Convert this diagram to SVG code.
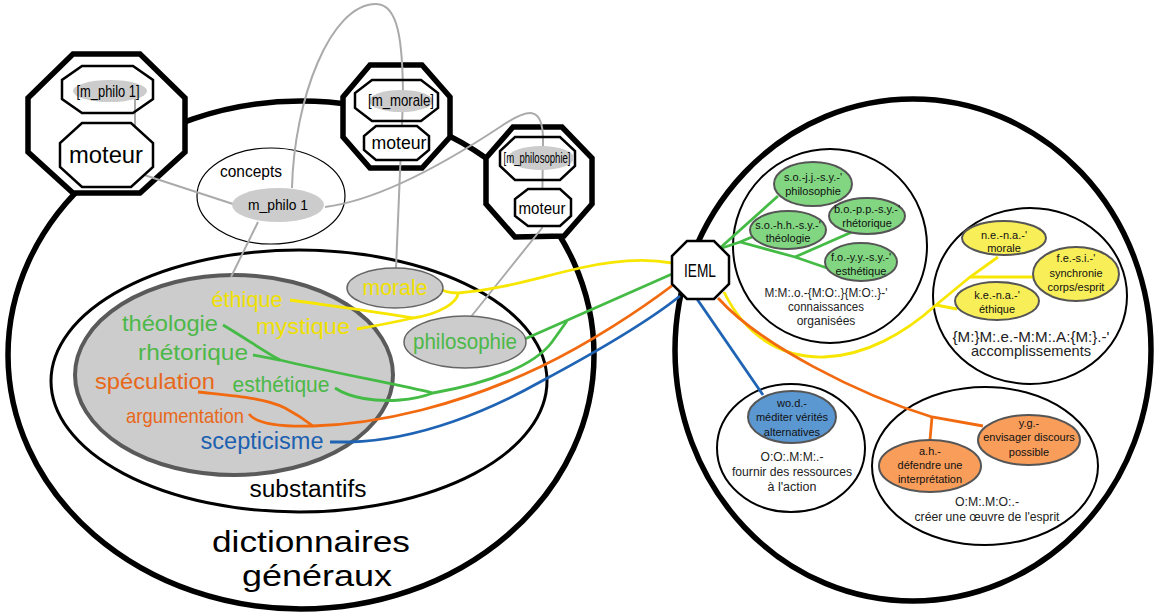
<svg xmlns="http://www.w3.org/2000/svg" width="1154" height="613" viewBox="0 0 1154 613">
<style>
text{font-family:"Liberation Sans",Arial,sans-serif;text-anchor:middle;fill:#000}
.oct{fill:#fff;stroke:#000;stroke-width:5.5;stroke-linejoin:miter}
.in{fill:#fff;stroke:#000;stroke-width:2.5}
.inT{fill:none;stroke:#000;stroke-width:2.5}
.cap{fill:#cccccc}
.gell{fill:#cccccc;stroke:#666;stroke-width:1.5}
.cont{fill:none;stroke:#000}
.gray{fill:none;stroke:#aaaaaa;stroke-width:2}
.ly{fill:none;stroke:#f7e600;stroke-width:2.8}
.lg{fill:none;stroke:#44bb44;stroke-width:2.8}
.lo{fill:none;stroke:#f26a10;stroke-width:2.8}
.lb{fill:none;stroke:#1f64b4;stroke-width:2.8}
.ty{fill:#efe000}
.tg{fill:#4cb848}
.to{fill:#e8681a}
.tb{fill:#1c60b0}
.eg{fill:#82d682;stroke:#555;stroke-width:2}
.ey{fill:#f8ee58;stroke:#555;stroke-width:2}
.eo{fill:#f99d5b;stroke:#555;stroke-width:2}
.eb{fill:#5b98d2;stroke:#555;stroke-width:2}
.s{font-size:11px;fill:#111}
.lab{fill:#222}
</style>

<!-- containers -->
<g id="dictionnaires-generaux">
  <ellipse class="cont" cx="301" cy="355" rx="293" ry="254" stroke-width="5.5"/>
  <text x="311" y="552" font-size="30" textLength="198" lengthAdjust="spacingAndGlyphs">dictionnaires</text>
  <text x="317" y="586" font-size="30" textLength="150" lengthAdjust="spacingAndGlyphs">généraux</text>
</g>
<g id="substantifs">
  <ellipse class="cont" cx="299" cy="381" rx="248" ry="131" stroke-width="3"/>
  <text x="308" y="497" font-size="23" textLength="117" lengthAdjust="spacingAndGlyphs">substantifs</text>
</g>
<g id="concepts">
  <ellipse class="cont" cx="271" cy="196" rx="74" ry="48" stroke-width="1.2"/>
  <text x="251" y="177" font-size="16" textLength="62" lengthAdjust="spacingAndGlyphs">concepts</text>
</g>
<g id="champ-gris">
  <ellipse cx="234" cy="375" rx="159" ry="100" fill="#cccccc" stroke="#5a5a5a" stroke-width="4"/>
</g>
<g id="domaine-ieml">
  <ellipse class="cont" cx="913" cy="350" rx="238" ry="251" stroke-width="5.5"/>
</g>
<g id="connaissances-organisees">
  <circle class="cont" cx="830" cy="246" r="97" stroke-width="2"/>
  <text class="lab" x="826" y="297" font-size="12" textLength="123" lengthAdjust="spacingAndGlyphs">M:M:.o.-{M:O:.}{M:O:.}-'</text>
  <text class="lab" x="826" y="311" font-size="12" textLength="76" lengthAdjust="spacingAndGlyphs">connaissances</text>
  <text class="lab" x="826" y="325" font-size="12">organisées</text>
</g>
<g id="accomplissements">
  <ellipse class="cont" cx="1030" cy="296" rx="97" ry="88" stroke-width="2"/>
  <text class="lab" x="1031" y="342" font-size="14.5" textLength="157" lengthAdjust="spacingAndGlyphs">{M:}M:.e.-M:M:.A:{M:}.-'</text>
  <text class="lab" x="1031" y="356" font-size="14.5" textLength="120" lengthAdjust="spacingAndGlyphs">accomplissements</text>
</g>
<g id="fournir-ressources">
  <ellipse class="cont" cx="791" cy="448" rx="74" ry="64" stroke-width="2"/>
  <text class="lab" x="792" y="461" font-size="12.5" textLength="63" lengthAdjust="spacingAndGlyphs">O:O:.M:M:.-</text>
  <text class="lab" x="792" y="476" font-size="12.5" textLength="120" lengthAdjust="spacingAndGlyphs">fournir des ressources</text>
  <text class="lab" x="792" y="491" font-size="12.5">à l'action</text>
</g>
<g id="oeuvre-esprit">
  <ellipse class="cont" cx="985" cy="466" rx="113" ry="79" stroke-width="2"/>
  <text class="lab" x="987" y="506" font-size="12.5" textLength="64" lengthAdjust="spacingAndGlyphs">O:M:.M:O:.-</text>
  <text class="lab" x="987" y="521" font-size="12.5" textLength="145" lengthAdjust="spacingAndGlyphs">créer une œuvre de l'esprit</text>
</g>

<!-- outer engine frames -->
<g id="cadre-philo1"><polygon class="oct" points="73,54 140,54 185,98 185,152 140,193 73,193 28,152 28,98"/></g>
<g id="cadre-morale"><polygon class="oct" points="370,65 422,65 450,97 450,137 422,168 370,168 343,137 343,97"/></g>
<g id="cadre-philosophie"><polygon class="oct" points="513,127 562,127 592,158 592,204 564,236 515,237 486,204 486,158"/></g>

<!-- connectors -->
<g id="connecteurs">
  <path class="gray" d="M135,95 L135,172 L233,204"/>
  <path class="gray" d="M292,188 C294,100 330,4 376,4 C398,4 403,40 403,100 L396,268"/>
  <path class="gray" d="M325,207 C380,200 450,160 500,127 C528,108 543,105 543,140 L542,228 L470,318"/>
  <path class="gray" d="M258,222 L231,277"/>

  <path class="ly" d="M290,300 C340,307 380,312 413,318"/>
  <path class="ly" d="M357,329 C380,325 400,321 413,318"/>
  <path class="ly" d="M413,318 C440,314 458,302 458,293"/>
  <path class="ly" d="M437,287 C442,291 448,293 458,293 C500,290 540,277 580,268 C620,259 650,259 672,263"/>
  <path class="ly" d="M724,292 C745,335 780,358 824,357 C865,356 905,333 936,305 L970,277 L998,257"/>
  <path class="ly" d="M970,277 L1033,277"/>
  <path class="ly" d="M936,305 L957,309"/>

  <path class="lg" d="M223,325 C245,338 265,352 280,360"/>
  <path class="lg" d="M253,355 L280,360 C330,372 400,385 433,393"/>
  <path class="lg" d="M335,388 C350,398 375,402 400,400 C415,399 425,396 433,393"/>
  <path class="lg" d="M433,393 C490,383 535,365 552,342 L567,321"/>
  <path class="lg" d="M518,342 L672,274"/>
  <path class="lg" d="M720,248 L778,196"/>
  <path class="lg" d="M722,248 L740,242 L752,237"/>
  <path class="lg" d="M740,242 L795,257 L827,268"/>
  <path class="lg" d="M795,257 L852,232"/>

  <path class="lo" d="M198,392 C235,396 265,398 285,408 Q300,416 313,426"/>
  <path class="lo" d="M249,414 C255,422 275,427 313,426"/>
  <path class="lo" d="M313,426 C380,424 460,405 540,367 C590,343 640,310 673,285"/>
  <path class="lo" d="M718,298 C760,345 860,395 932,417 L983,426"/>
  <path class="lo" d="M932,417 L930,440"/>

  <path class="lb" d="M330,442 L350,442 C420,440 490,410 540,382 C600,350 650,320 680,296"/>
  <path class="lb" d="M697,299 L763,395"/>
</g>

<!-- engine nodes -->
<g id="ref-m_philo1">
  <polygon class="inT" points="82,66 133,66 153,80 153,99 133,113 82,113 62,99 62,80"/>
  <ellipse class="cap" cx="110" cy="91" rx="37" ry="11"/>
  <text x="108" y="97" font-size="17" textLength="63" lengthAdjust="spacingAndGlyphs">[m_philo 1]</text>
</g>
<g id="moteur-1">
  <polygon class="in" points="82,123 131,123 153,143 153,167 131,187 82,187 60,167 60,143"/>
  <text x="106" y="163" font-size="24" textLength="74" lengthAdjust="spacingAndGlyphs">moteur</text>
</g>
<g id="ref-m_morale">
  <polygon class="inT" points="372,80 421,80 438,93 438,108 421,121 372,121 355,108 355,93"/>
  <ellipse class="cap" cx="401" cy="101" rx="32" ry="11"/>
  <text x="401" y="106" font-size="17" textLength="66" lengthAdjust="spacingAndGlyphs">[m_morale]</text>
</g>
<g id="moteur-2">
  <polygon class="in" points="376,126 417,126 429,136 429,150 417,160 376,160 364,150 364,136"/>
  <text x="399" y="149" font-size="18" textLength="55" lengthAdjust="spacingAndGlyphs">moteur</text>
</g>
<g id="ref-m_philosophie">
  <polygon class="inT" points="515,137 560,137 575,151 575,166 560,180 515,180 500,166 500,151"/>
  <ellipse class="cap" cx="541" cy="158" rx="33" ry="12"/>
  <text x="537" y="163" font-size="14" textLength="67" lengthAdjust="spacingAndGlyphs">[m_philosophie]</text>
</g>
<g id="moteur-3">
  <polygon class="in" points="528,189 560,189 571,199 571,216 560,226 528,226 515,216 515,199"/>
  <text x="542" y="214" font-size="16" textLength="47" lengthAdjust="spacingAndGlyphs">moteur</text>
</g>
<g id="m_philo1">
  <ellipse class="cap" cx="278" cy="205" rx="46" ry="17"/>
  <text x="278" y="210" font-size="15" textLength="60" lengthAdjust="spacingAndGlyphs">m_philo 1</text>
</g>

<!-- word nodes -->
<g id="morale"><ellipse class="gell" cx="395" cy="288" rx="48" ry="20"/><text class="ty" x="395" y="295" font-size="22" textLength="65" lengthAdjust="spacingAndGlyphs">morale</text></g>
<g id="philosophie"><ellipse class="gell" cx="465" cy="342" rx="61" ry="26"/><text class="tg" x="465" y="349" font-size="22" textLength="104" lengthAdjust="spacingAndGlyphs">philosophie</text></g>
<g id="ethique"><text class="ty" x="247" y="307" font-size="22" textLength="71" lengthAdjust="spacingAndGlyphs">éthique</text></g>
<g id="mystique"><text class="ty" x="303" y="334" font-size="22" textLength="94" lengthAdjust="spacingAndGlyphs">mystique</text></g>
<g id="theologie"><text class="tg" x="170" y="331" font-size="22" textLength="96" lengthAdjust="spacingAndGlyphs">théologie</text></g>
<g id="rhetorique"><text class="tg" x="193" y="360" font-size="22" textLength="110" lengthAdjust="spacingAndGlyphs">rhétorique</text></g>
<g id="speculation"><text class="to" x="155" y="389" font-size="22" textLength="120" lengthAdjust="spacingAndGlyphs">spéculation</text></g>
<g id="esthetique"><text class="tg" x="281" y="392" font-size="22" textLength="97" lengthAdjust="spacingAndGlyphs">esthétique</text></g>
<g id="argumentation"><text class="to" x="185" y="423" font-size="21" textLength="118" lengthAdjust="spacingAndGlyphs">argumentation</text></g>
<g id="scepticisme"><text class="tb" x="262" y="449" font-size="23" textLength="123" lengthAdjust="spacingAndGlyphs">scepticisme</text></g>

<!-- IEML -->
<g id="ieml">
  <polygon fill="#fff" stroke="#000" stroke-width="2.5" points="687,241 714,241 729,256 729,284 714,299 687,299 672,284 672,256"/>
  <text x="700" y="277" font-size="18" textLength="32" lengthAdjust="spacingAndGlyphs">IEML</text>
</g>

<!-- IEML terms -->
<g id="sojjsy"><ellipse class="eg" cx="813" cy="184" rx="39" ry="22"/><text class="s" x="813" y="181">s.o.-j.j.-s.y.-'</text><text class="s" x="813" y="195">philosophie</text></g>
<g id="boppsy"><ellipse class="eg" cx="867" cy="216" rx="38" ry="18"/><text class="s" x="867" y="213" font-size="10.5">b.o.-p.p.-s.y.-'</text><text class="s" x="867" y="227" font-size="10.5">rhétorique</text></g>
<g id="sohhsy"><ellipse class="eg" cx="788" cy="230" rx="38" ry="19"/><text class="s" x="788" y="229">s.o.-h.h.-s.y.-'</text><text class="s" x="788" y="242">théologie</text></g>
<g id="foyysy"><ellipse class="eg" cx="861" cy="262" rx="36" ry="19"/><text class="s" x="861" y="261">f.o.-y.y.-s.y.-'</text><text class="s" x="861" y="275">esthétique</text></g>

<g id="nena"><ellipse class="ey" cx="1004" cy="238" rx="42" ry="17"/><text class="s" x="1004" y="239" font-size="12">n.e.-n.a.-'</text><text class="s" x="1004" y="252" font-size="12">morale</text></g>
<g id="fesi"><ellipse class="ey" cx="1076" cy="274" rx="43" ry="27"/><text class="s" x="1076" y="262" font-size="12">f.e.-s.i.-'</text><text class="s" x="1076" y="277" font-size="12">synchronie</text><text class="s" x="1076" y="291" font-size="12">corps/esprit</text></g>
<g id="kena"><ellipse class="ey" cx="997" cy="301" rx="42" ry="19"/><text class="s" x="997" y="299" font-size="12">k.e.-n.a.-'</text><text class="s" x="997" y="313" font-size="12">éthique</text></g>

<g id="wod"><ellipse class="eb" cx="792" cy="417" rx="44" ry="26"/><text class="s" x="792" y="407">wo.d.-</text><text class="s" x="792" y="421">méditer vérités</text><text class="s" x="792" y="436">alternatives</text></g>
<g id="ah"><ellipse class="eo" cx="930" cy="466" rx="51" ry="26"/><text class="s" x="930" y="455">a.h.-</text><text class="s" x="930" y="469">défendre une</text><text class="s" x="930" y="483">interprétation</text></g>
<g id="yg"><ellipse class="eo" cx="1029" cy="440" rx="51" ry="25"/><text class="s" x="1029" y="427">y.g.-</text><text class="s" x="1029" y="441">envisager discours</text><text class="s" x="1029" y="456">possible</text></g>
</svg>
